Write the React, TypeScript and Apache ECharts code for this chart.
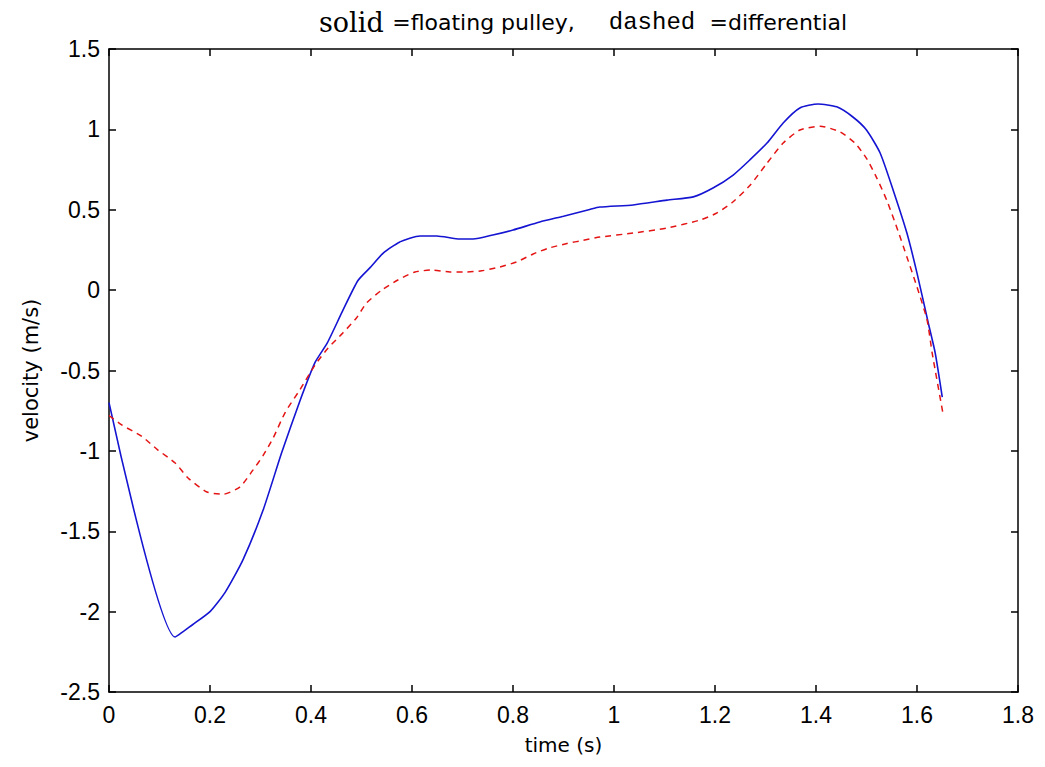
import React, { useEffect, useRef } from "react";
import * as echarts from "echarts";

const solidT = [0, 0.131, 0.166, 0.2, 0.23, 0.265, 0.305, 0.342, 0.378, 0.408, 0.432, 0.464, 0.493, 0.517, 0.543, 0.576, 0.616, 0.649, 0.695, 0.721, 0.76, 0.8, 0.853, 0.9, 0.95, 0.972, 1.038, 1.105, 1.157, 1.196, 1.236, 1.269, 1.303, 1.335, 1.368, 1.404, 1.441, 1.473, 1.5, 1.527, 1.553, 1.58, 1.6, 1.622, 1.636, 1.65];
const solidV = [-0.7, -2.158, -2.08, -2.0, -1.88, -1.68, -1.37, -1.01, -0.69, -0.45, -0.33, -0.12, 0.06, 0.14, 0.23, 0.3, 0.337, 0.337, 0.318, 0.318, 0.343, 0.374, 0.424, 0.46, 0.5, 0.517, 0.53, 0.56, 0.58, 0.635, 0.716, 0.81, 0.915, 1.04, 1.133, 1.158, 1.14, 1.077, 0.996, 0.853, 0.62, 0.355, 0.106, -0.2, -0.39, -0.665];

const dashedT = [0, 0.026, 0.065, 0.097, 0.131, 0.157, 0.194, 0.226, 0.259, 0.285, 0.305, 0.325, 0.349, 0.378, 0.408, 0.434, 0.463, 0.49, 0.51, 0.54, 0.572, 0.606, 0.64, 0.675, 0.708, 0.738, 0.774, 0.807, 0.84, 0.869, 0.907, 0.939, 0.972, 1.038, 1.105, 1.17, 1.204, 1.236, 1.27, 1.303, 1.335, 1.368, 1.408, 1.448, 1.477, 1.5, 1.52, 1.54, 1.56, 1.58, 1.6, 1.62, 1.63, 1.651];
const dashedV = [-0.78, -0.84, -0.91, -0.995, -1.075, -1.17, -1.256, -1.27, -1.225, -1.12, -1.03, -0.92, -0.76, -0.62, -0.466, -0.36, -0.267, -0.173, -0.08, 0.0, 0.063, 0.113, 0.125, 0.113, 0.113, 0.12, 0.144, 0.175, 0.225, 0.26, 0.29, 0.31, 0.33, 0.355, 0.386, 0.436, 0.48, 0.55, 0.654, 0.79, 0.915, 0.996, 1.02, 0.984, 0.915, 0.82, 0.7, 0.56, 0.39, 0.206, 0.02, -0.186, -0.39, -0.76];

const xMin = 0, xMax = 1.8, xStep = 0.2;
const yMin = -2.5, yMax = 1.5, yStep = 0.5;
const xName = "time (s)";
const yName = "velocity (m/s)";

const fmt = (v: number) => String(Number(v.toFixed(2)));

export default function App() {
  const ref = useRef<HTMLDivElement>(null);
  useEffect(() => {
    if (!ref.current) return;
    const chart = echarts.init(ref.current, null, { renderer: "svg" });
    const sans = "'Liberation Sans', Arial, sans-serif";
    const wide = "'DejaVu Sans', Verdana, sans-serif";
    const axisLine = { show: true, onZero: false, lineStyle: { color: "#000", width: 1.5 } };
    const tick = { show: true, inside: true, length: 7, lineStyle: { color: "#000", width: 1.5 } };
    chart.setOption({
      animation: false,
      backgroundColor: "#fff",
      title: {
        text: "{a|solid }{b|=floating pulley,}{s| }{c|dashed }{b|=differential}",
        left: 314,
        top: 4,
        textStyle: {
          fontWeight: "normal",
          rich: {
            a: { fontFamily: "'DejaVu Serif', 'Liberation Serif', serif", fontSize: 27, fontWeight: "normal", color: "#000" },
            b: { fontFamily: wide, fontSize: 22, fontWeight: "normal", color: "#000" },
            c: { fontFamily: "'Liberation Mono', 'DejaVu Sans Mono', monospace", fontSize: 24, fontWeight: "normal", color: "#000" },
            s: { width: 34, fontSize: 22 },
          },
        },
      },
      grid: { left: 109, right: 27, top: 49, bottom: 75, containLabel: false },
      xAxis: [
        {
          type: "value", min: xMin, max: xMax, interval: xStep, position: "bottom",
          axisLine, axisTick: tick, splitLine: { show: false },
          axisLabel: { formatter: fmt, color: "#000", fontFamily: sans, fontSize: 23, margin: 11 },
          name: xName, nameLocation: "middle", nameGap: 43,
          nameTextStyle: { color: "#000", fontFamily: wide, fontSize: 20 },
        },
        {
          type: "value", min: xMin, max: xMax, interval: xStep, position: "top",
          axisLine, axisTick: tick, splitLine: { show: false }, axisLabel: { show: false },
        },
      ],
      yAxis: [
        {
          type: "value", min: yMin, max: yMax, interval: yStep, position: "left",
          axisLine, axisTick: tick, splitLine: { show: false },
          axisLabel: { formatter: fmt, color: "#000", fontFamily: sans, fontSize: 23, margin: 9 },
          name: yName, nameLocation: "middle", nameGap: 68,
          nameTextStyle: { color: "#000", fontFamily: wide, fontSize: 21 },
        },
        {
          type: "value", min: yMin, max: yMax, interval: yStep, position: "right",
          axisLine, axisTick: tick, splitLine: { show: false }, axisLabel: { show: false },
        },
      ],
      series: [
        {
          name: "floating pulley", type: "line", xAxisIndex: 0, yAxisIndex: 0,
          data: solidT.map((t, i) => [t, solidV[i]]),
          showSymbol: false, symbol: "none", smooth: 0.2,
          lineStyle: { color: "#1414d2", width: 1.6 },
        },
        {
          name: "differential", type: "line", xAxisIndex: 0, yAxisIndex: 0,
          data: dashedT.map((t, i) => [t, dashedV[i]]),
          showSymbol: false, symbol: "none", smooth: 0.2,
          lineStyle: { color: "#e41414", width: 1.5, type: [6, 5] },
        },
      ],
    });
    return () => chart.dispose();
  }, []);
  return <div ref={ref} style={{ width: 1045, height: 767, position: "absolute", left: 0, top: 0 }} />;
}
